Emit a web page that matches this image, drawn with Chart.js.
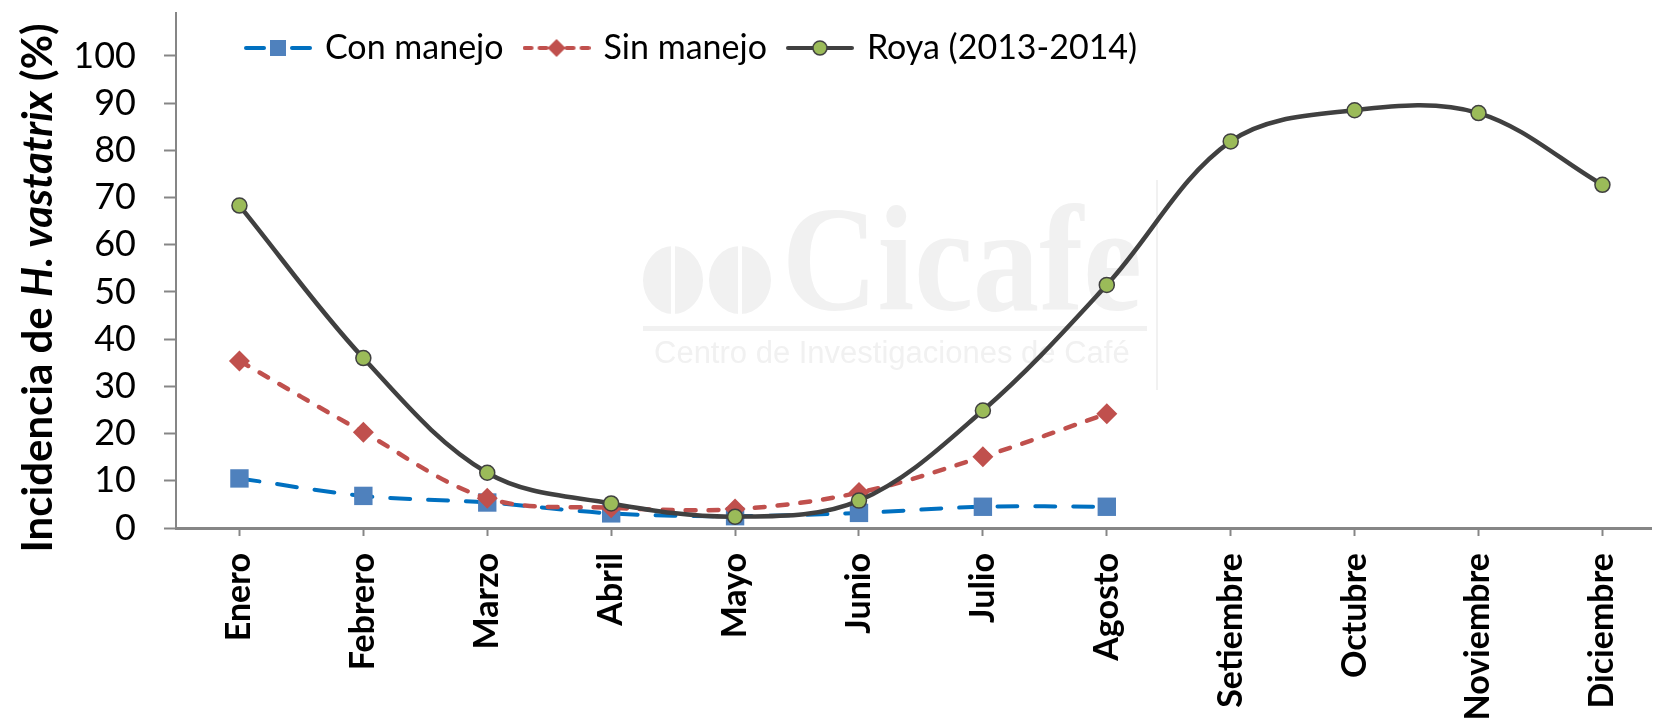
<!DOCTYPE html>
<html>
<head>
<meta charset="utf-8">
<script src="https://cdn.jsdelivr.net/npm/chart.js@4.4.1/dist/chart.umd.min.js"></script>
<style>
  html, body { margin: 0; padding: 0; background: #fff; }
  #wrap { width: 1664px; height: 722px; }
</style>
</head>
<body>
<div id="wrap"><canvas id="royaChart" width="1664" height="722"></canvas></div>
<script>
const months = ['Enero', 'Febrero', 'Marzo', 'Abril', 'Mayo', 'Junio', 'Julio',
    'Agosto', 'Setiembre', 'Octubre', 'Noviembre', 'Diciembre'];
const yTicks = [0, 10, 20, 30, 40, 50, 60, 70, 80, 90, 100];
const seriesNames = ['Con manejo', 'Sin manejo', 'Roya (2013-2014)'];
const conManejo = [10.5, 6.8, 5.4, 3.1, 2.5, 3.2, 4.5, 4.5];
const sinManejo = [35.4, 20.3, 6.3, 4.3, 4.0, 7.5, 15.1, 24.2];
const roya = [68.3, 36.0, 11.7, 5.2, 2.4, 5.8, 24.9, 51.5, 81.9, 88.5, 87.9, 72.7];

const BLUE_LINE = '#0070C0', BLUE_MARK = '#4F81BD';
const RED = '#C0504D';
const DARK = '#404040', GREEN = '#9BBB59';
const AXIS = '#868686';

const toPoints = arr => arr.map((v, i) => ({ x: i, y: v }));

// little line + marker pictures for the legend, like the excel legend keys
function legendIcon(color, segments, drawMarker) {
    const c = document.createElement('canvas');
    c.width = 68;
    c.height = 24;
    const g = c.getContext('2d');
    g.strokeStyle = color;
    g.lineWidth = 4;
    g.lineCap = 'round';
    segments.forEach(([a, b]) => {
        g.beginPath();
        g.moveTo(a, 12);
        g.lineTo(b, 12);
        g.stroke();
    });
    drawMarker(g);
    return c;
}

const legendIcons = [
    legendIcon(BLUE_LINE, [[2, 20], [48, 66]], g => {
        g.fillStyle = BLUE_MARK;
        g.fillRect(26, 4, 16, 16);
    }),
    legendIcon(RED, [[2, 9], [17, 24], [44, 51], [59, 66]], g => {
        g.fillStyle = RED;
        g.beginPath();
        g.moveTo(34, 3); g.lineTo(43, 12); g.lineTo(34, 21); g.lineTo(25, 12);
        g.closePath();
        g.fill();
    }),
    legendIcon(DARK, [[2, 66]], g => {
        g.fillStyle = GREEN;
        g.strokeStyle = DARK;
        g.lineWidth = 1.5;
        g.beginPath();
        g.arc(34, 12, 7, 0, Math.PI * 2);
        g.fill();
        g.stroke();
    })
];

// legend is squeezed to 1px in the layout, then put back inside the plot
const legendShift = {
    id: 'legendShift',
    afterLayout(chart) {
        const lg = chart.legend;
        if (!lg) return;
        const w = lg.right - lg.left;
        lg.left = 225;
        lg.right = 225 + w;
        lg.top = 8;
        lg.bottom = 90;
    }
};

// faint Cicafe watermark behind the lines
const watermark = {
    id: 'watermark',
    beforeDatasetsDraw(chart) {
        const ctx = chart.ctx;
        ctx.save();
        ctx.fillStyle = 'rgb(241,241,241)';
        [[673, 30], [740, 31]].forEach(([cx, rx]) => {
            ctx.beginPath();
            ctx.ellipse(cx, 280, rx, 34, 0, 0, Math.PI * 2);
            ctx.fill();
        });
        ctx.fillStyle = '#fff';
        ctx.fillRect(671, 244, 4, 72);
        ctx.fillRect(738, 244, 4, 72);
        ctx.fillStyle = 'rgb(241,241,241)';
        ctx.font = 'bold 150px "Liberation Serif"';
        ctx.textBaseline = 'alphabetic';
        ctx.fillText('Cicafe', 782, 310, 360);
        ctx.fillRect(643, 326, 504, 5);
        ctx.font = '31px "Liberation Sans"';
        ctx.fillText('Centro de Investigaciones de Café', 654, 363, 477);
        ctx.fillRect(1156, 180, 2, 210);
        ctx.restore();
    }
};

// y title with the italic species name
const yTitle = {
    id: 'yTitle',
    afterDraw(chart) {
        const ctx = chart.ctx;
        const parts = [
            ['Incidencia de ', 'bold 42px Lato'],
            ['H. vastatrix', 'italic bold 42px Lato'],
            [' (%)', 'bold 42px Lato']
        ];
        ctx.save();
        ctx.translate(38, 288);
        ctx.rotate(-Math.PI / 2);
        ctx.fillStyle = '#000';
        ctx.textBaseline = 'middle';
        let total = 0;
        parts.forEach(([t, f]) => { ctx.font = f; total += ctx.measureText(t).width; });
        let x = -total / 2;
        parts.forEach(([t, f]) => {
            ctx.font = f;
            ctx.fillText(t, x, 0);
            x += ctx.measureText(t).width;
        });
        ctx.restore();
    }
};

const data = {
    datasets: [{
        label: seriesNames[0],
        data: toPoints(conManejo),
        borderColor: BLUE_LINE,
        borderWidth: 4,
        borderDash: [20, 18],
        borderCapStyle: 'round',
        tension: 0.35,
        pointStyle: 'rect',
        pointRadius: 13,
        pointBackgroundColor: BLUE_MARK,
        pointBorderColor: BLUE_MARK,
        pointBorderWidth: 0,
        order: 2
    }, {
        label: seriesNames[1],
        data: toPoints(sinManejo),
        borderColor: RED,
        borderWidth: 4.5,
        borderDash: [10, 13],
        borderCapStyle: 'round',
        tension: 0.35,
        pointStyle: 'rectRot',
        pointRadius: 10.5,
        pointBackgroundColor: RED,
        pointBorderColor: RED,
        pointBorderWidth: 0,
        order: 1
    }, {
        label: seriesNames[2],
        data: toPoints(roya),
        borderColor: DARK,
        borderWidth: 4.5,
        tension: 0.35,
        pointStyle: 'circle',
        pointRadius: 7.5,
        pointBackgroundColor: GREEN,
        pointBorderColor: DARK,
        pointBorderWidth: 1.5,
        order: 0
    }]
};

const options = {
    responsive: false,
    animation: false,
    layout: { padding: { top: 12 } },
    plugins: {
        legend: {
            position: 'top',
            align: 'start',
            maxHeight: 1,
            labels: {
                usePointStyle: true,
                pointStyleWidth: 60,
                padding: 23,
                color: '#000',
                font: { family: 'Lato', size: 34 },
                generateLabels: chart => chart.data.datasets.map((ds, i) => ({
                    text: ds.label,
                    pointStyle: legendIcons[i],
                    fillStyle: ds.borderColor,
                    strokeStyle: ds.borderColor,
                    lineWidth: 0,
                    hidden: false,
                    fontColor: '#000',
                    datasetIndex: i
                }))
            }
        },
        tooltip: { enabled: false }
    },
    scales: {
        x: {
            type: 'linear',
            min: -0.512,
            max: 11.392,
            afterBuildTicks: s => { s.ticks = months.map((m, i) => ({ value: i })); },
            afterFit: s => {
                s.height = 194;
                s.paddingLeft = 0;
                s.paddingRight = 0;
            },
            ticks: {
                autoSkip: false,
                minRotation: 90,
                maxRotation: 90,
                padding: 17,
                color: '#000',
                font: { family: 'Lato', size: 34, weight: 'bold' },
                callback: v => months[v]
            },
            grid: { drawOnChartArea: false, tickLength: 8, tickColor: AXIS, tickWidth: 2 },
            border: { color: AXIS, width: 3 }
        },
        y: {
            min: 0,
            max: 109.1,
            afterBuildTicks: s => { s.ticks = yTicks.map(v => ({ value: v })); },
            afterFit: s => {
                s.width = 176;
                s.paddingTop = 0;
                s.paddingBottom = 0;
            },
            ticks: {
                padding: 28,
                color: '#000',
                font: { family: 'Lato', size: 36 }
            },
            grid: { drawOnChartArea: false, tickLength: 12, tickColor: AXIS, tickWidth: 2 },
            border: { color: AXIS, width: 2 }
        }
    }
};

new Chart(document.getElementById('royaChart'), {
    type: 'line',
    data,
    options,
    plugins: [legendShift, watermark, yTitle]
});
</script>
</body>
</html>
